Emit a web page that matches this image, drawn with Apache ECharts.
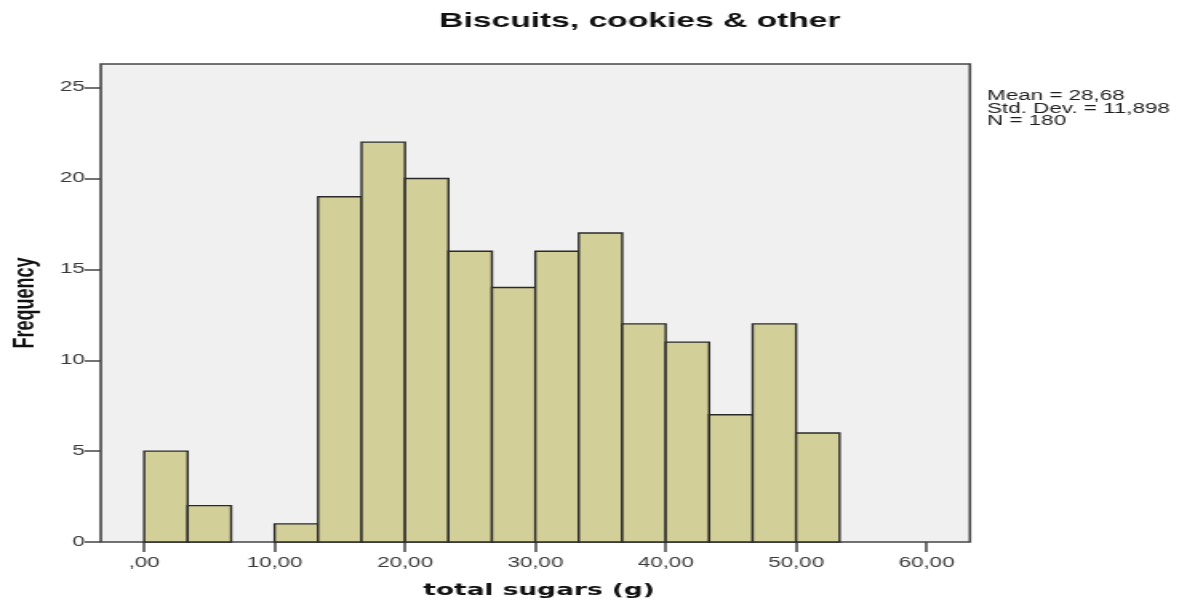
<!DOCTYPE html>
<html>
<head>
<meta charset="utf-8">
<script src="https://cdn.jsdelivr.net/npm/echarts@6/dist/echarts.min.js"></script>
<style>
  html, body { margin: 0; padding: 0; background: #ffffff; }
  #wrap { width: 1187px; height: 600px; overflow: hidden; position: relative; }
  /* the chart is laid out in a narrower box and stretched horizontally */
  #chart { width: 742px; height: 600px; transform: scaleX(1.5997); transform-origin: 0 0; }
</style>
</head>
<body>
<div id="wrap"><div id="chart"></div></div>
<script>
// Histogram of total sugars (g), bins of 10/3 g starting at 0
const binWidth = 10 / 3;
const binStartValue = 0;
const counts = [5, 2, 0, 1, 19, 22, 20, 16, 14, 16, 17, 12, 11, 7, 12, 6];

const xTickValues = [0, 10, 20, 30, 40, 50, 60];
const xTickLabels = [',00', '10,00', '20,00', '30,00', '40,00', '50,00', '60,00'];
const yTickValues = [0, 5, 10, 15, 20, 25];
const yTickLabels = ['0', '5', '10', '15', '20', '25'];

const titleText = 'Biscuits, cookies & other';
const xAxisName = 'total sugars (g)';
const yAxisName = 'Frequency';
const statLines = ['Mean = 28,68', 'Std. Dev. = 11,898', 'N = 180'];

const FONT = "'Liberation Sans', Arial, sans-serif";

const binData = counts.map((c, i) => {
  const x0 = binStartValue + i * binWidth;
  return [x0, x0 + binWidth, c];
});

const chart = echarts.init(document.getElementById('chart'), null, { renderer: 'canvas' });

chart.setOption({
  animation: false,
  backgroundColor: '#ffffff',
  grid: {
    left: 63, right: 135.7, top: 64, bottom: 58,
    show: true, backgroundColor: '#f0f0f0',
    borderColor: '#444444', borderWidth: 1.6
  },
  xAxis: {
    type: 'value', min: -3.33, max: 63.33,
    axisLine: { show: false, onZero: false },
    splitLine: { show: false },
    axisTick: {
      show: true, length: 10, customValues: xTickValues,
      lineStyle: { color: '#444444', width: 1.5 }
    },
    axisLabel: {
      customValues: xTickValues, margin: 14,
      color: '#3a3a3a', fontSize: 14, fontFamily: FONT,
      formatter: v => xTickLabels[xTickValues.indexOf(v)]
    }
  },
  yAxis: {
    type: 'value', min: 0, max: 26.3,
    axisLine: { show: false, onZero: false },
    splitLine: { show: false },
    axisTick: {
      show: true, length: 10, customValues: yTickValues,
      lineStyle: { color: '#444444', width: 1.5 }
    },
    axisLabel: {
      customValues: yTickValues, margin: 10,
      color: '#3a3a3a', fontSize: 14, fontFamily: FONT,
      formatter: v => yTickLabels[yTickValues.indexOf(v)]
    }
  },
  series: [{
    type: 'custom',
    data: binData,
    encode: { x: [0, 1], y: 2 },
    renderItem: function (params, api) {
      const y = api.value(2);
      if (!y) return null;
      const p0 = api.coord([api.value(0), y]);
      const p1 = api.coord([api.value(1), 0]);
      return {
        type: 'rect',
        shape: { x: p0[0], y: p0[1], width: p1[0] - p0[0], height: p1[1] - p0[1] },
        style: { fill: '#d3cf99', stroke: '#2a2a2a', lineWidth: 1.4 }
      };
    }
  }],
  graphic: [
    {
      type: 'text', x: 400, y: 21,
      style: {
        text: titleText, fill: '#111111', font: 'bold 21px ' + FONT,
        align: 'center', verticalAlign: 'middle'
      }
    },
    {
      type: 'text', x: 337, y: 591,
      style: {
        text: xAxisName, fill: '#111111',
        font: "bold 16.5px 'DejaVu Sans', Verdana, sans-serif",
        align: 'center', verticalAlign: 'middle'
      }
    },
    {
      type: 'text', x: 16, y: 303, rotation: Math.PI / 2,
      style: {
        text: yAxisName, fill: '#111111', font: 'bold 18px ' + FONT,
        align: 'center', verticalAlign: 'middle'
      }
    },
    {
      type: 'text', x: 617, y: 90,
      style: {
        text: statLines.join('\n'), fill: '#1e1e1e',
        font: '14px ' + FONT, lineHeight: 12.5,
        align: 'left', verticalAlign: 'top'
      }
    }
  ]
});
</script>
</body>
</html>
